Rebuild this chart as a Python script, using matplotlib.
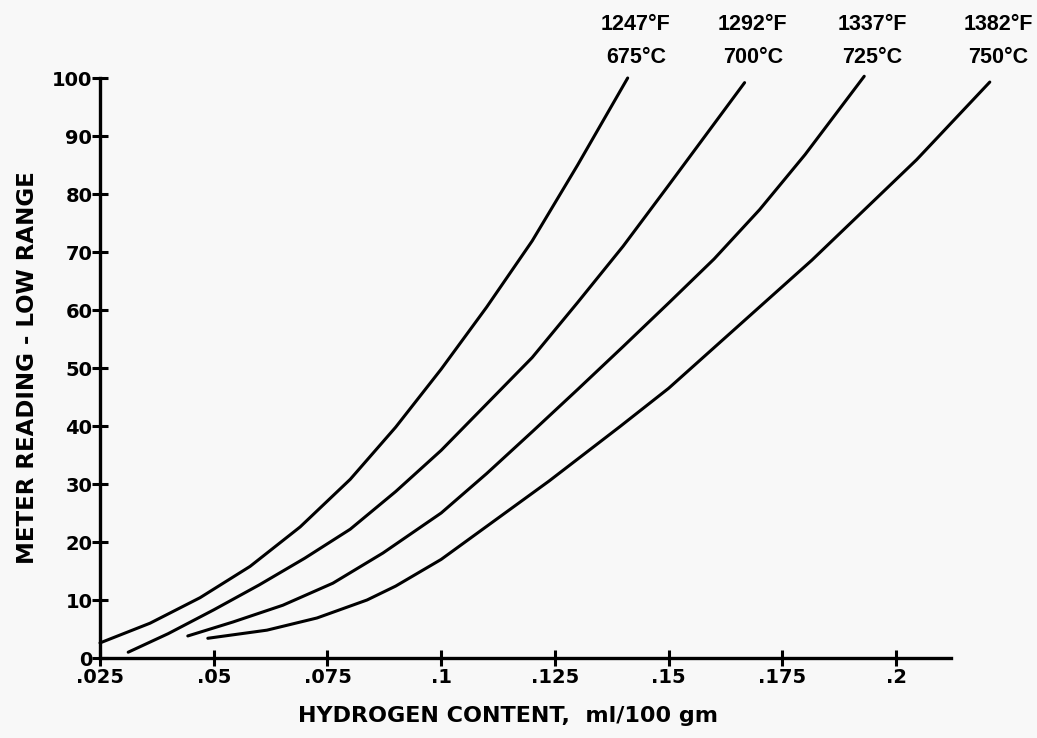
"""
Meter reading vs hydrogen content, four furnace temperatures
"""

import matplotlib
matplotlib.use("Agg")
import matplotlib.pyplot as plt

# hydrogen content (ml/100 gm) and meter reading for each curve
h_675 = [0.025, 0.036, 0.047, 0.058, 0.069, 0.080, 0.090, 0.100, 0.110, 0.120, 0.130, 0.141]
m_675 = [2.6, 6.0, 10.4, 15.8, 22.6, 30.8, 39.8, 49.8, 60.5, 71.9, 85.0, 100]

h_700 = [0.0312, 0.040, 0.050, 0.060, 0.070, 0.080, 0.090, 0.100, 0.110, 0.120, 0.130, 0.140, 0.150, 0.1667]
m_700 = [1.0, 4.2, 8.3, 12.6, 17.2, 22.2, 28.7, 35.8, 43.8, 51.8, 61.3, 71.0, 81.5, 99.2]

h_725 = [0.0443, 0.0542, 0.0652, 0.0762, 0.0872, 0.100, 0.110, 0.120, 0.130, 0.140, 0.150, 0.160, 0.170, 0.180, 0.193]
m_725 = [3.8, 6.2, 9.1, 12.9, 18.1, 25.0, 31.8, 39.0, 46.3, 53.7, 61.2, 68.8, 77.3, 86.8, 100.3]

h_750 = [0.0487, 0.0617, 0.0727, 0.0837, 0.090, 0.100, 0.1237, 0.1393, 0.150, 0.1815, 0.2045, 0.2206]
m_750 = [3.4, 4.8, 6.9, 10.0, 12.4, 17.0, 30.5, 39.9, 46.5, 68.6, 85.9, 99.3]

temp_labels = ["1247°F\n675°C", "1292°F\n700°C", "1337°F\n725°C", "1382°F\n750°C"]

x_ticks = [0.025, 0.05, 0.075, 0.1, 0.125, 0.15, 0.175, 0.2]
x_tick_labels = [".025", ".05", ".075", ".1", ".125", ".15", ".175", ".2"]
y_ticks = [0, 10, 20, 30, 40, 50, 60, 70, 80, 90, 100]

plt.rcParams['font.family'] = ['DejaVu Sans']
plt.rcParams['font.weight'] = 'bold'

fig = plt.figure(figsize=(10.37, 7.38), dpi=100)
fig.patch.set_facecolor('#f8f8f8')
ax = fig.add_axes([100 / 1037, 80 / 738, 851 / 1037, 580 / 738])
ax.set_facecolor('none')

curves = [(h_675, m_675), (h_700, m_700), (h_725, m_725), (h_750, m_750)]
for (h, m), label in zip(curves, temp_labels):
    ax.plot(h, m, color='black', lw=2.2, solid_capstyle='round',
            solid_joinstyle='round', clip_on=False)
    # temperature label above the top end of each curve
    ax.text(h[-1] + 0.0018, 101.8, label, ha='center', va='bottom', fontsize=15.5,
            family=['Liberation Sans', 'DejaVu Sans'], fontweight='bold',
            linespacing=1.7, clip_on=False)

ax.set_xlim(0.025, 0.025 + 851 / 4549)
ax.set_ylim(0, 100)

for side in ['top', 'right']:
    ax.spines[side].set_visible(False)
for side in ['left', 'bottom']:
    ax.spines[side].set_linewidth(2.4)

ax.set_xticks(x_ticks)
ax.set_xticklabels(x_tick_labels)
ax.set_yticks(y_ticks)
ax.tick_params(direction='inout', length=11, width=2.2, labelsize=14, pad=2)
ax.tick_params(axis='y', pad=0)

ax.set_xlabel('HYDROGEN CONTENT,  ml/100 gm', fontsize=16, fontweight='bold')
ax.set_ylabel('METER READING - LOW RANGE', fontsize=16.5, fontweight='bold')
ax.xaxis.set_label_coords(0.48, -0.083)
ax.yaxis.set_label_coords(-0.072, 0.5)

plt.savefig('out.png', dpi=100, facecolor=fig.get_facecolor())
